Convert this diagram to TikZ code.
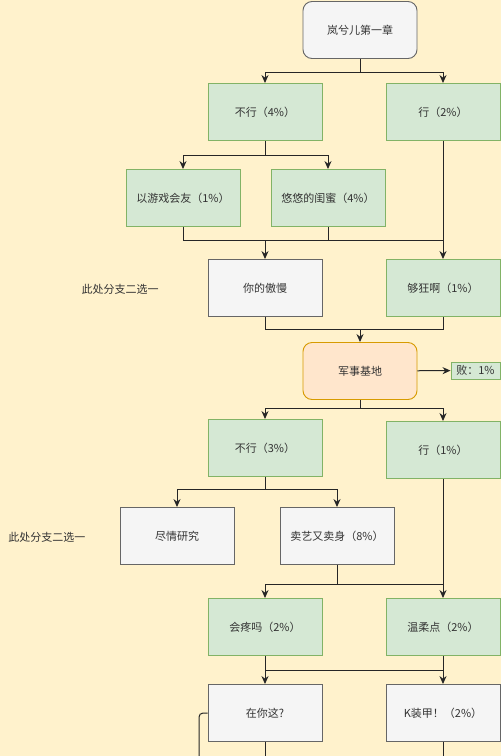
\documentclass[tikz,border=0pt]{standalone}
\usepackage{fontspec}
\setmainfont{Noto Sans CJK SC}
\usetikzlibrary{arrows.meta}
\definecolor{bgyellow}{HTML}{FFF2CC}
\definecolor{greenfill}{HTML}{D5E8D4}
\definecolor{greenline}{HTML}{82B366}
\definecolor{grayfill}{HTML}{F5F5F5}
\definecolor{grayline}{HTML}{666666}
\definecolor{orangefill}{HTML}{FFE6CC}
\definecolor{orangeline}{HTML}{D79B00}
\definecolor{textgray}{HTML}{333333}
\tikzset{
  box/.style={draw,line width=0.9pt,minimum width=114pt,minimum height=57pt,inner sep=0pt,text=textgray},
  greenbox/.style={box,fill=greenfill,draw=greenline},
  graybox/.style={box,fill=grayfill,draw=grayline},
  startbox/.style={box,fill=grayfill,draw=grayline,rounded corners=9pt},
  basebox/.style={box,fill=orangefill,draw=orangeline,rounded corners=9pt},
  losebox/.style={draw=greenline,fill=greenfill,line width=0.9pt,minimum width=49pt,minimum height=17pt,inner sep=0pt,text=textgray},
  link/.style={line width=1pt,black!85}
}
\begin{document}
\begin{tikzpicture}[x=1pt,y=-1pt,>={Stealth[length=8pt,width=7pt]},font=\fontsize{11}{13}\selectfont]
\fill[bgyellow] (0,0) rectangle (501,756);
\useasboundingbox (0,0) rectangle (501,756);
% chapter start
\node[startbox] (start) at (360,30) {岚兮儿第一章};
\node[greenbox] (no1) at (265,112) {不行（4\%）};
\node[greenbox] (yes1) at (443,112) {行（2\%）};
\node[greenbox] (game) at (183,198) {以游戏会友（1\%）};
\node[greenbox] (friend) at (328,198) {悠悠的闺蜜（4\%）};
\node[graybox] (proud) at (265,288) {你的傲慢};
\node[greenbox] (crazy) at (443,288) {够狂啊（1\%）};
\node[text=textgray] (hint1) at (120,289) {此处分支二选一};
% military base
\node[basebox] (base) at (360,371) {军事基地};
\node[losebox] (lose) at (475.5,370.5) {败：1\%};
\node[greenbox] (no2) at (265,448) {不行（3\%）};
\node[greenbox] (yes2) at (443,450) {行（1\%）};
\node[graybox] (study) at (177,536) {尽情研究};
\node[graybox] (sell) at (337,536) {卖艺又卖身（8\%）};
\node[text=textgray] (hint2) at (47,537) {此处分支二选一};
\node[greenbox] (hurt) at (265,627) {会疼吗（2\%）};
\node[greenbox] (gentle) at (443,627) {温柔点（2\%）};
\node[graybox] (here) at (265,713) {在你这?};
\node[graybox] (armor) at (443,713) {K装甲！（2\%）};
% junctions
\coordinate (j0) at (360,72);
\coordinate (j1) at (265,155);
\coordinate (j2) at (265,240);
\coordinate (j3) at (360,329);
\coordinate (j4) at (360,408);
\coordinate (j5) at (265,489);
\coordinate (j6) at (337,584);
\coordinate (j7) at (265,670);
\coordinate (loop) at (199,756);
\coordinate (bottom) at (265,756);
% connectors
\draw[link] (start) -- (j0);
\draw[link,->] (j0) -| (no1);
\draw[link,->] (j0) -| (yes1);
\draw[link] (no1) -- (j1);
\draw[link,->] (j1) -| (game);
\draw[link,->] (j1) -| (friend);
\draw[link] (game.south) |- (yes1.south |- j2);
\draw[link] (friend.south) -- (friend.south |- j2);
\draw[link,->] (j2) -- (proud);
\draw[link,->] (yes1) -- (crazy);
\draw[link] (proud.south) |- (crazy.south |- j3) -- (crazy.south);
\draw[link,->] (j3) -- (base);
\draw[link,->] (base) -- (lose);
\draw[link] (base) -- (j4);
\draw[link,->] (j4) -| (no2);
\draw[link,->] (j4) -| (yes2);
\draw[link] (no2) -- (j5);
\draw[link,->] (j5) -| (study);
\draw[link,->] (j5) -| (sell);
\draw[link] (sell) -- (j6);
\draw[link] (hurt.north |- j6) -- (gentle.north |- j6);
\draw[link,->] (hurt.north |- j6) -- (hurt);
\draw[link,->] (yes2) -- (gentle);
\draw[link] (hurt) -- (j7) -- (gentle.south |- j7);
\draw[link,->] (j7) -- (here);
\draw[link,->] (gentle) -- (armor);
\draw[link] (here) -- (bottom);
\draw[link] (armor) -- (armor.south |- bottom);
\draw[link,rounded corners=4pt] (here.west) -- (loop |- here.west) -- (loop);
\end{tikzpicture}
\end{document}
